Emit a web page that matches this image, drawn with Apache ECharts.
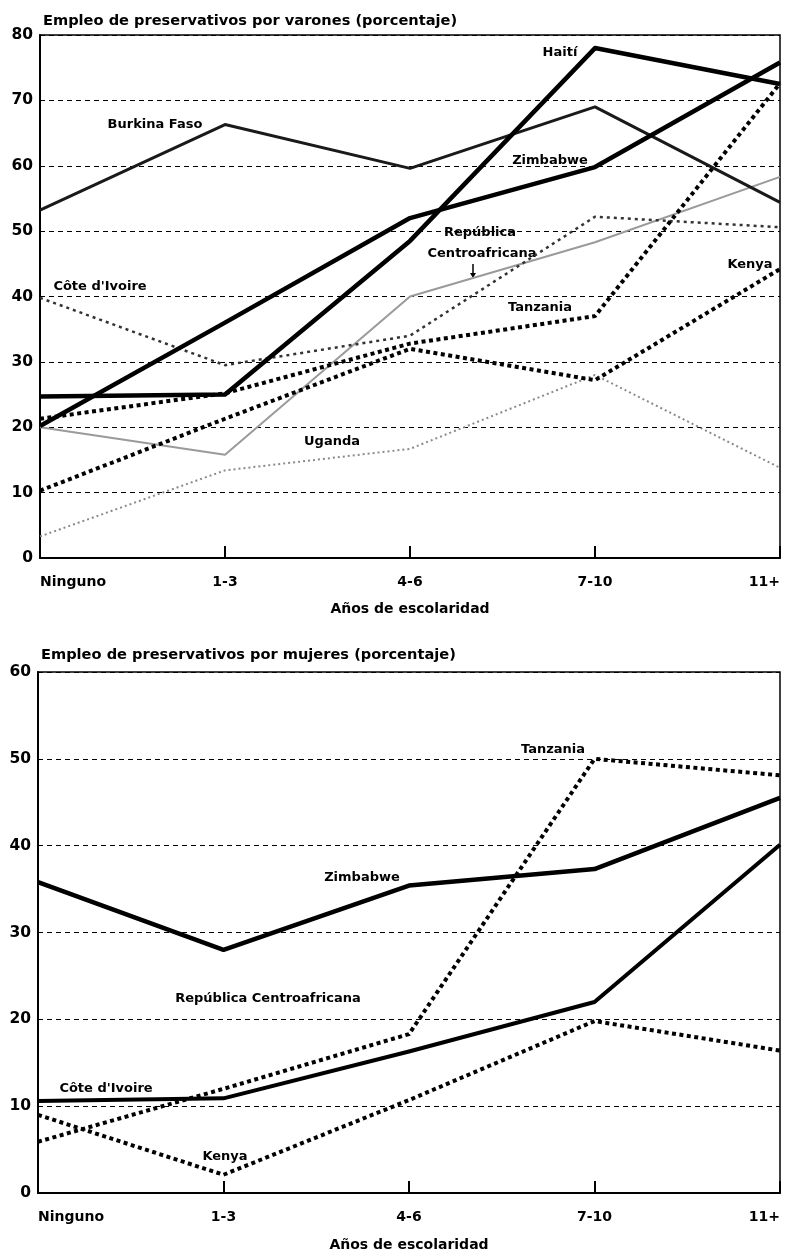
<!DOCTYPE html>
<html><head><meta charset="utf-8">
<script src="https://cdn.jsdelivr.net/npm/echarts@6/dist/echarts.min.js"></script>
<style>html,body{margin:0;padding:0;background:#fff}#c{width:790px;height:1253px}</style>
</head><body><div id="c"></div>
<script>
// ---- data ----
const categories = ['Ninguno', '1-3', '4-6', '7-10', '11+'];
const titleMen = 'Empleo de preservativos por varones (porcentaje)';
const titleWomen = 'Empleo de preservativos por mujeres (porcentaje)';
const xName = 'Años de escolaridad';
// men (%)
const haitiM    = [24.7, 25.0, 48.5, 78.0, 72.5];
const burkinaM  = [53.2, 66.3, 59.6, 69.0, 54.4];
const zimbabweM = [20.2, 36.0, 52.0, 59.8, 75.8];
const rcaM      = [20.0, 15.8, 40.0, 48.3, 58.3];
const coteM     = [39.8, 29.5, 34.0, 52.2, 50.6];
const tanzaniaM = [21.3, 25.2, 32.8, 37.0, 72.6];
const kenyaM    = [10.3, 21.3, 32.0, 27.2, 44.2];
const ugandaM   = [3.3, 13.4, 16.7, 28.0, 13.8];
// women (%)
const zimbabweW = [35.8, 28.0, 35.4, 37.3, 45.5];
const tanzaniaW = [5.9, 12.0, 18.3, 50.0, 48.1];
const coteW     = [10.6, 10.9, 16.3, 22.0, 40.1];
const kenyaW    = [9.0, 2.1, 10.7, 19.8, 16.4];

const F = 'DejaVu Sans';
const chart = echarts.init(document.getElementById('c'), null, {renderer: 'canvas'});

function xAx(gi, gap) {
  return {
    type: 'category', gridIndex: gi, data: categories, boundaryGap: false,
    axisLine: {lineStyle: {color: '#000', width: 2}},
    axisTick: {show: true, inside: true, length: 12, lineStyle: {color: '#000', width: 2}},
    axisLabel: {color: '#000', fontFamily: F, fontWeight: 'bold', fontSize: 14, margin: 17,
      alignMinLabel: 'left', alignMaxLabel: 'right', interval: 0},
    splitLine: {show: false},
    name: xName, nameLocation: 'middle', nameGap: gap,
    nameTextStyle: {color: '#000', fontFamily: F, fontWeight: 'bold', fontSize: 14}
  };
}
function yAx(gi, max) {
  return {
    type: 'value', gridIndex: gi, min: 0, max: max, interval: 10,
    axisLine: {show: true, lineStyle: {color: '#000', width: 2}},
    axisTick: {show: false},
    axisLabel: {color: '#000', fontFamily: F, fontWeight: 'bold', fontSize: 15.5, margin: 7},
    splitLine: {show: true, lineStyle: {color: '#000', width: 1.2, type: [5, 4]}}
  };
}
function ln(name, data, gi, color, width, type) {
  return {
    type: 'line', name: name, data: data, xAxisIndex: gi, yAxisIndex: gi,
    symbol: 'none', silent: true,
    lineStyle: {color: color, width: width, type: type || 'solid', cap: 'butt', join: 'round'}
  };
}
const dotThick = [4, 3.5];

const labelStyle = (t, x, y) => ({type: 'text', x: x, y: y,
  style: {text: t, fill: '#000', font: 'bold 13px "DejaVu Sans"', textAlign: 'center', textVerticalAlign: 'middle'}});

chart.setOption({
  animation: false,
  backgroundColor: '#fff',
  title: [
    {text: titleMen, left: 38, top: 9, textStyle: {fontFamily: F, fontWeight: 'bold', fontSize: 14.6, color: '#000'}},
    {text: titleWomen, left: 36, top: 643, textStyle: {fontFamily: F, fontWeight: 'bold', fontSize: 14.6, color: '#000'}}
  ],
  grid: [
    {left: 40, top: 35, width: 740, height: 523, show: true, borderColor: '#000', borderWidth: 1.5},
    {left: 38, top: 672, width: 742, height: 525, show: true, borderColor: '#000', borderWidth: 1.5}
  ],
  xAxis: [xAx(0, 44), xAx(1, 45)],
  yAxis: [yAx(0, 80), yAx(1, 60)],
  series: [
    ln('Uganda', ugandaM, 0, '#8a8a8a', 2, [2, 3]),
    ln('República Centroafricana', rcaM, 0, '#9a9a9a', 2),
    ln("Côte d'Ivoire", coteM, 0, '#333', 2.5, [3, 4]),
    ln('Kenya', kenyaM, 0, '#000', 4, dotThick),
    ln('Tanzania', tanzaniaM, 0, '#000', 4, dotThick),
    ln('Burkina Faso', burkinaM, 0, '#1a1a1a', 3),
    ln('Zimbabwe', zimbabweM, 0, '#000', 4.5),
    ln('Haití', haitiM, 0, '#000', 4.5),
    ln('Kenya', kenyaW, 1, '#000', 4, dotThick),
    ln('Tanzania', tanzaniaW, 1, '#000', 4, dotThick),
    ln("Côte d'Ivoire", coteW, 1, '#000', 4),
    ln('Zimbabwe', zimbabweW, 1, '#000', 4.5)
  ],
  graphic: [
    labelStyle('Haití', 560, 53),
    labelStyle('Burkina Faso', 155, 125),
    labelStyle('Zimbabwe', 550, 161),
    labelStyle('República', 480, 233),
    labelStyle('Centroafricana', 482, 254),
    labelStyle("Côte d'Ivoire", 100, 287),
    labelStyle('Tanzania', 540, 308),
    labelStyle('Kenya', 750, 265),
    labelStyle('Uganda', 332, 442),
    {type: 'line', shape: {x1: 473, y1: 264, x2: 473, y2: 274}, style: {stroke: '#000', lineWidth: 1.5}},
    {type: 'polygon', shape: {points: [[470, 273], [476, 273], [473, 278]]}, style: {fill: '#000'}},
    labelStyle('Tanzania', 553, 750),
    labelStyle('Zimbabwe', 362, 878),
    labelStyle('República Centroafricana', 268, 999),
    labelStyle("Côte d'Ivoire", 106, 1089),
    labelStyle('Kenya', 225, 1157)
  ]
});
</script></body></html>
